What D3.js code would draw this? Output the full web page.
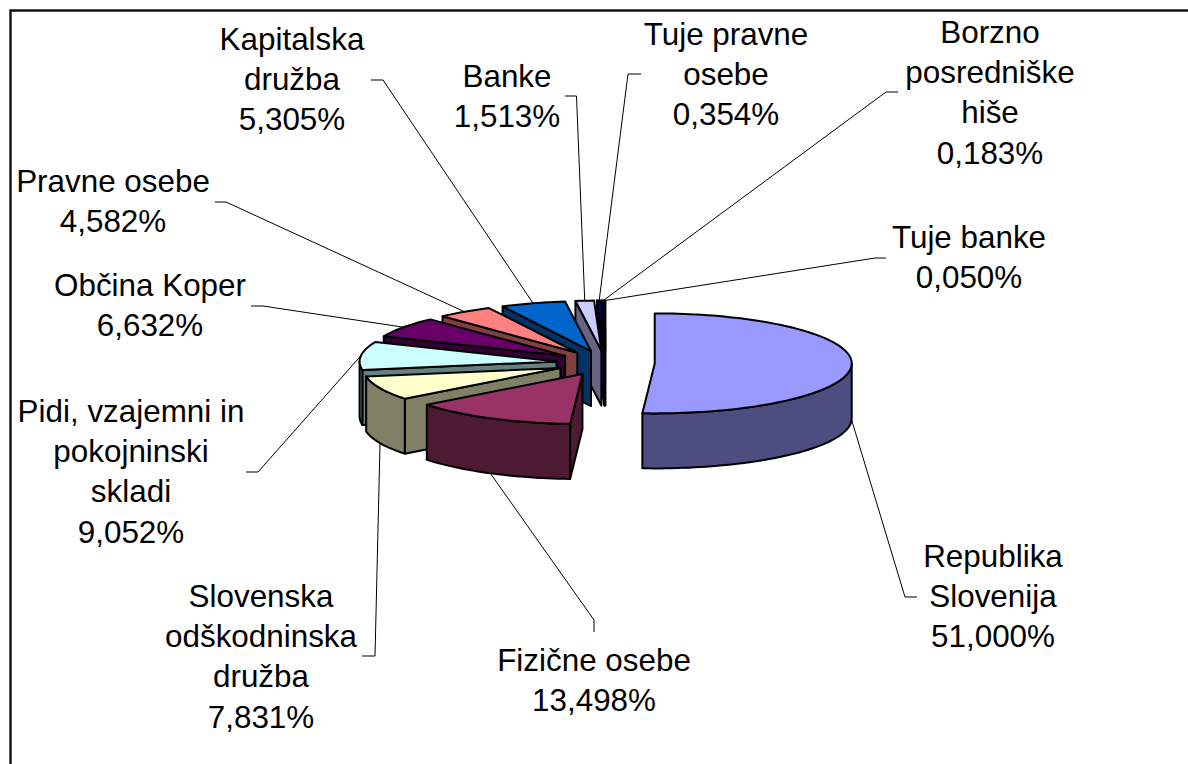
<!DOCTYPE html>
<html>
<head>
<meta charset="utf-8">
<script src="https://cdn.jsdelivr.net/npm/d3@7"></script>
<style>
html,body{margin:0;padding:0;background:#fff;overflow:hidden}
svg{display:block}
text{font-family:"Liberation Sans",Arial,sans-serif;font-size:31.4px;fill:#000;text-anchor:middle}
</style>
</head>
<body>
<svg id="c" width="1188" height="764"></svg>
<script>
const categories = [
  ["Republika","Slovenija"],
  ["Fizične osebe"],
  ["Slovenska","odškodninska","družba"],
  ["Pidi, vzajemni in","pokojninski","skladi"],
  ["Občina Koper"],
  ["Pravne osebe"],
  ["Kapitalska","družba"],
  ["Banke"],
  ["Tuje pravne","osebe"],
  ["Borzno","posredniške","hiše"],
  ["Tuje banke"]
];
const shares = [51.000,13.498,7.831,9.052,6.632,4.582,5.305,1.513,0.354,0.183,0.050];
const topColors  = ["#9999FF","#993366","#FFFFCC","#CCFFFF","#660066","#FF8080","#0066CC","#CCCCFF","#000080","#000060","#000000"];
const sideColors = ["#4D4D80","#4D1A33","#808066","#668080","#330033","#804040","#003366","#666680","#000040","#000030","#000000"];

// layout only
const labelCentre = [993,594,261,131,150,113,292,507,726,990,969];
const labelBase   = [567,671,607,422,296,192,50,87,45,43,248];
const lineStep = 40.2;
const leaderBend = [
  [[905,597],[917,597]],
  [[594,620],[594,632]],
  [[375,656],[362,656]],
  [[258,472],[246,472]],
  [[263,306],[251,306]],
  [[226,202],[215,202]],
  [[383,80],[371,80]],
  [[576.5,96],[565,96]],
  [[628,74],[641,74]],
  [[886,92],[898,92]],
  [[875,258],[886,258]]
];
const cx=605.5, cy=363, rx=197, ry=50, depth=55, explode=0.25;

const svg=d3.select("#c");
const x=d3.scaleLinear().domain([-1,1]).range([-rx,rx]);
const y=d3.scaleLinear().domain([-1,1]).range([-ry,ry]);
const pie=d3.pie().sort(null).startAngle(0).endAngle(2*Math.PI);
const arcs=pie(shares);
const line=d3.line();

// frame (runs off the right and bottom of the picture)
svg.append("path").attr("d","M10.5,770V10.5H1195").attr("fill","none").attr("stroke","#111").attr("stroke-width",2.4);

function apex(d){
  const m=(d.startAngle+d.endAngle)/2;
  return [cx+x(Math.sin(m)*explode), cy+y(-Math.cos(m)*explode)];
}
function rim(d,a,dz=0){
  const c=apex(d);
  return [c[0]+x(Math.sin(a)), c[1]+y(-Math.cos(a))+dz];
}
function sweep(a0,a1,dz){
  const n=Math.max(2,Math.ceil((a1-a0)/0.03));
  return d3.range(n+1).map(i=>a0+(a1-a0)*i/n).map(a=>[a,dz]);
}

const slices=arcs.map((d,i)=>({d,i}));
// back to front: the tiny slices first, the large front one last
const order=[...slices].reverse();
const g=svg.append("g").attr("stroke","#000").attr("stroke-width",2).attr("stroke-linejoin","round");
order.forEach(({d,i})=>{
  const c=apex(d), s=g.append("g");
  if(Math.sin(d.startAngle)<0){
    const r=rim(d,d.startAngle);
    s.append("path").attr("fill",sideColors[i])
      .attr("d",line([c,r,[r[0],r[1]+depth],[c[0],c[1]+depth]])+"Z");
  }
  const a0=Math.max(d.startAngle,Math.PI/2), a1=Math.min(d.endAngle,3*Math.PI/2);
  if(a1>a0){
    const top=sweep(a0,a1,0).map(p=>rim(d,p[0]));
    const bot=sweep(a0,a1,0).map(p=>rim(d,p[0],depth)).reverse();
    s.append("path").attr("fill",sideColors[i]).attr("d",line(top.concat(bot))+"Z");
  }
  const edge=sweep(d.startAngle,d.endAngle,0).map(p=>rim(d,p[0]));
  s.append("path").attr("fill",topColors[i]).attr("d",line([c].concat(edge))+"Z");
});

// leaders
svg.append("g").attr("fill","none").attr("stroke","#000").attr("stroke-width",1)
  .selectAll("path").data(arcs).join("path")
  .attr("d",(d,i)=>{
    const m=(d.startAngle+d.endAngle)/2;
    const front=Math.cos(m)<0;
    return line([rim(d,m,front?depth:0)].concat(leaderBend[i]));
  });

// labels
const fmt=d3.format(".3f");
const lab=svg.append("g").selectAll("text").data(categories).join("text")
  .attr("x",(d,i)=>labelCentre[i]).attr("y",(d,i)=>labelBase[i]);
lab.each(function(names,i){
  const t=d3.select(this);
  names.concat(fmt(shares[i]).replace(".",",")+"%").forEach((s,k)=>{
    t.append("tspan").attr("x",labelCentre[i]).attr("y",labelBase[i]+k*lineStep).text(s);
  });
});
</script>
</body>
</html>
